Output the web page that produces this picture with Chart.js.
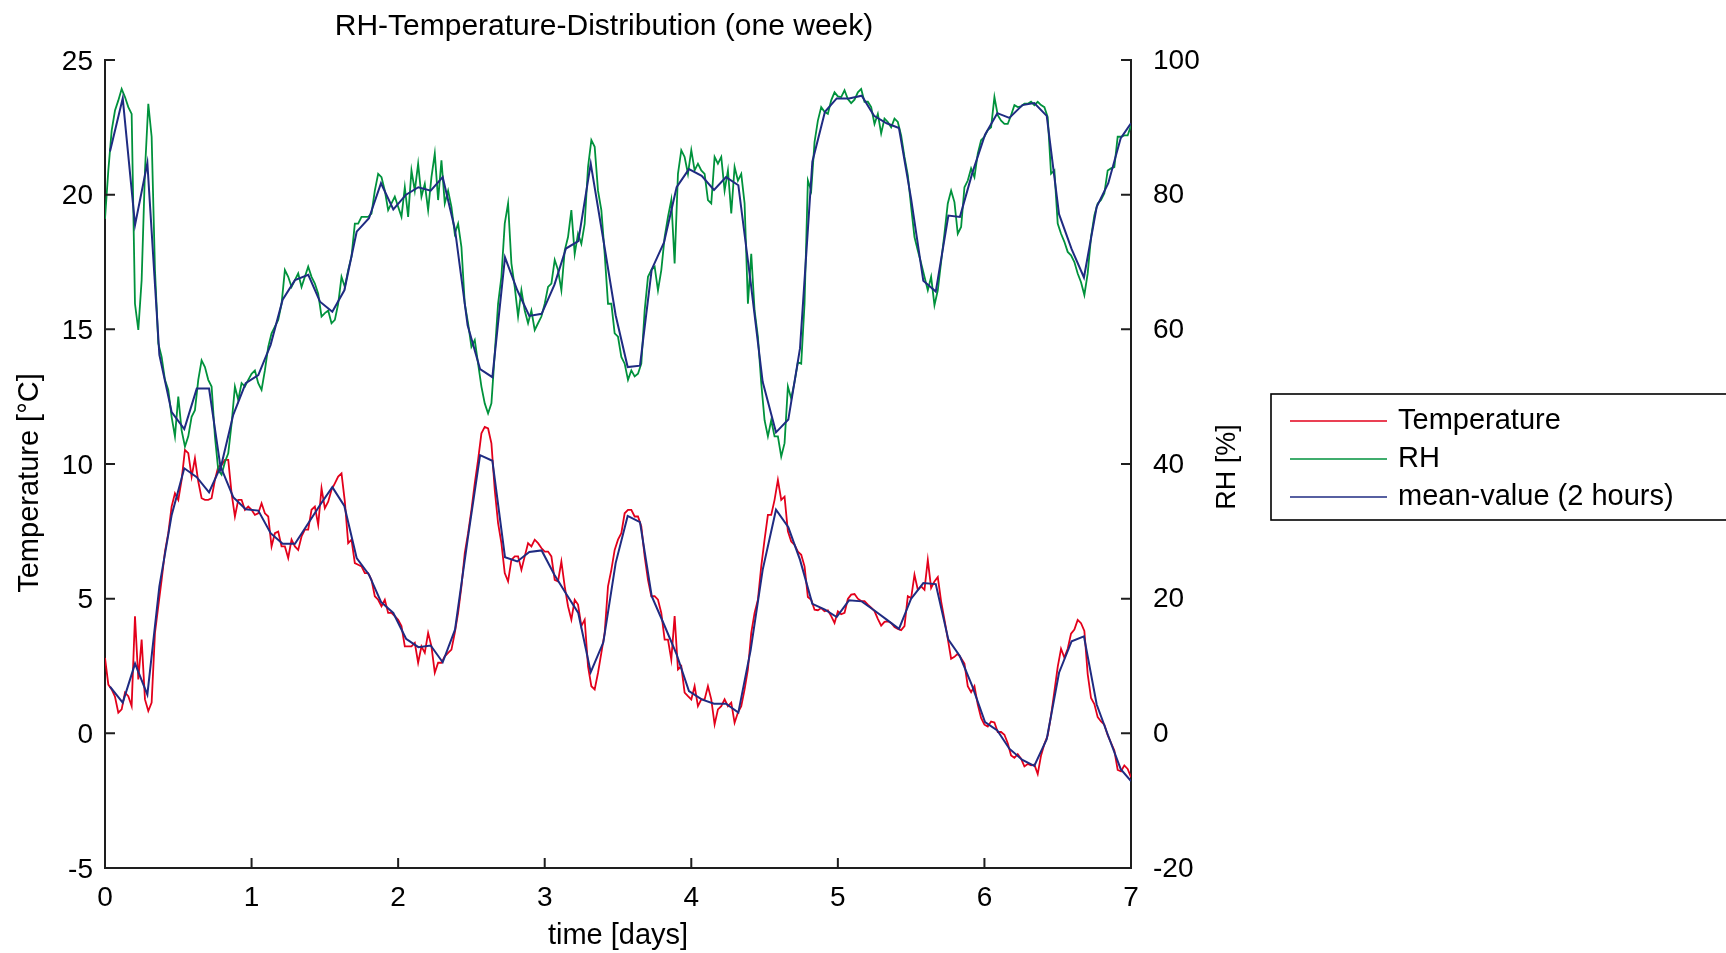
<!DOCTYPE html>
<html>
<head>
<meta charset="utf-8">
<script src="https://cdn.jsdelivr.net/npm/chart.js@4.4.1/dist/chart.umd.min.js"></script>
<style>
  html, body { margin: 0; padding: 0; background: #ffffff; overflow: hidden; }
  #wrap { position: relative; width: 1726px; height: 953px; }
</style>
</head>
<body>
<div id="wrap"><canvas id="c" width="1726" height="953"></canvas></div>
<script>
// ---------------- DATA ----------------
// raw samples: one sample every 1/44 day
const SAMPLES_PER_DAY = 44;

const temperatureRaw = [
  2.80, 1.81, 1.63, 1.36, 0.77, 0.89, 1.51, 1.38, 1.01, 4.35,
  2.00, 3.48, 1.26, 0.83, 1.14, 3.73, 4.72, 5.70, 6.75, 7.43,
  8.42, 8.91, 8.67, 9.41, 10.52, 10.40, 9.53, 10.21, 9.35, 8.73,
  8.67, 8.67, 8.73, 9.41, 9.90, 9.96, 10.15, 10.15, 8.91, 8.05,
  8.67, 8.67, 8.30, 8.42, 8.30, 8.11, 8.17, 8.54, 8.17, 8.05,
  6.94, 7.43, 7.49, 6.94, 6.94, 6.51, 7.19, 6.94, 6.81, 7.31,
  7.56, 7.56, 8.30, 8.42, 7.74, 9.10, 8.36, 8.60, 9.04, 9.28,
  9.53, 9.65, 8.60, 7.06, 7.19, 6.32, 6.26, 6.20, 5.95, 5.95,
  5.70, 5.09, 4.96, 4.72, 4.96, 4.47, 4.47, 4.35, 4.22, 3.98,
  3.23, 3.23, 3.23, 3.36, 2.62, 3.23, 2.99, 3.73, 3.23, 2.25,
  2.62, 2.62, 2.86, 2.99, 3.11, 3.73, 4.47, 5.46, 6.69, 7.43,
  8.30, 9.28, 10.15, 11.14, 11.38, 11.32, 10.77, 9.04, 7.80, 7.06,
  5.95, 5.64, 6.44, 6.57, 6.57, 6.07, 6.57, 7.06, 6.94, 7.19,
  7.06, 6.88, 6.75, 6.75, 6.57, 5.70, 5.64, 6.38, 5.46, 4.72,
  4.22, 4.96, 4.78, 3.98, 4.22, 2.49, 1.75, 1.63, 2.25, 2.99,
  3.73, 5.46, 6.07, 6.81, 7.19, 7.43, 8.17, 8.30, 8.30, 8.05,
  8.05, 7.68, 6.57, 5.70, 5.09, 5.09, 4.96, 4.47, 3.48, 3.48,
  2.74, 4.35, 2.37, 2.49, 1.51, 1.38, 1.26, 1.75, 1.01, 1.26,
  1.26, 1.75, 1.26, 0.33, 0.89, 1.01, 1.26, 1.01, 1.14, 0.39,
  0.77, 1.01, 1.63, 2.37, 3.73, 4.47, 4.96, 6.20, 7.19, 8.11,
  8.11, 8.67, 9.41, 8.67, 8.79, 7.50, 7.12, 7.00, 6.75, 6.63,
  6.20, 5.06, 4.96, 4.59, 4.57, 4.65, 4.53, 4.57, 4.35, 4.10,
  4.53, 4.42, 4.47, 4.99, 5.15, 5.17, 5.00, 4.91, 4.91, 4.78,
  4.67, 4.54, 4.25, 4.00, 4.14, 4.16, 4.10, 3.95, 3.88, 3.83,
  3.98, 5.09, 5.02, 5.89, 5.33, 5.46, 5.33, 6.44, 5.40, 5.64,
  5.80, 4.90, 4.22, 3.51, 2.77, 2.84, 2.96, 2.79, 2.59, 1.75,
  1.53, 1.75, 1.07, 0.57, 0.32, 0.25, 0.44, 0.40, 0.05, 0.05,
  -0.05, -0.37, -0.82, -0.91, -0.77, -0.94, -1.23, -1.14, -1.19, -1.16,
  -1.51, -0.82, -0.40, -0.07, 0.67, 1.56, 2.47, 3.14, 2.81, 3.14,
  3.70, 3.85, 4.21, 4.09, 3.80, 2.20, 1.31, 1.09, 0.60, 0.44,
  0.32, -0.07, -0.35, -0.64, -1.36, -1.41, -1.19, -1.32, -1.63
];

const rhRaw = [
  76.4, 83.6, 89.5, 92.5, 94.0, 95.7, 94.5, 93.0, 92.0, 63.8,
  59.9, 67.3, 83.6, 93.5, 88.6, 68.8, 57.9, 55.9, 52.5, 51.0,
  47.0, 44.1, 50.0, 45.0, 42.6, 44.1, 47.0, 48.0, 52.5, 55.4,
  54.4, 52.5, 51.5, 44.1, 39.1, 38.4, 40.3, 41.6, 46.0, 51.5,
  49.5, 52.0, 51.5, 52.5, 53.4, 53.9, 52.0, 51.0, 53.9, 57.4,
  59.4, 60.4, 61.4, 63.8, 68.8, 67.8, 66.3, 67.3, 68.3, 66.3,
  67.8, 69.3, 67.8, 66.8, 65.3, 61.9, 62.4, 62.8, 60.9, 61.4,
  63.8, 67.8, 66.3, 68.8, 70.8, 75.7, 75.7, 76.7, 76.7, 76.7,
  77.2, 80.6, 83.1, 82.6, 80.6, 77.7, 78.7, 79.7, 78.2, 76.7,
  81.1, 76.7, 83.6, 80.6, 84.6, 79.7, 81.6, 77.7, 82.6, 86.1,
  79.2, 85.1, 78.7, 80.6, 78.2, 74.2, 75.7, 72.2, 63.8, 60.9,
  57.4, 58.4, 54.9, 51.5, 49.0, 47.5, 49.0, 56.4, 63.8, 67.8,
  75.7, 78.7, 69.8, 66.3, 61.9, 65.8, 62.8, 60.9, 62.8, 59.9,
  60.9, 61.9, 63.8, 66.3, 66.8, 70.3, 68.8, 65.8, 71.7, 73.7,
  77.7, 71.2, 74.2, 72.7, 75.7, 84.1, 88.1, 87.1, 80.6, 77.7,
  71.2, 63.8, 63.8, 59.4, 58.9, 55.9, 54.9, 52.5, 53.9, 53.0,
  53.4, 54.9, 62.8, 67.8, 68.8, 69.3, 65.8, 68.8, 73.7, 76.7,
  79.2, 69.8, 83.1, 86.6, 85.6, 83.1, 86.6, 83.6, 84.6, 83.6,
  83.1, 79.2, 78.7, 85.6, 84.6, 85.6, 80.6, 83.6, 77.2, 84.1,
  82.1, 83.1, 78.7, 63.8, 71.2, 62.8, 58.9, 52.0, 46.5, 44.1,
  46.5, 44.1, 44.1, 41.1, 43.1, 51.5, 49.7, 52.2, 55.1, 54.9,
  63.8, 82.1, 80.6, 87.8, 91.0, 93.0, 92.3, 92.0, 94.0, 95.2,
  94.6, 94.5, 95.5, 94.2, 93.6, 94.1, 95.2, 95.7, 93.8, 93.8,
  93.0, 90.5, 92.0, 89.1, 91.3, 90.8, 90.0, 91.3, 90.8, 88.8,
  85.6, 82.9, 78.2, 73.7, 71.7, 69.8, 67.8, 65.8, 67.8, 63.6,
  65.8, 70.0, 74.2, 78.7, 80.6, 78.9, 74.2, 75.2, 81.1, 82.1,
  83.9, 82.6, 86.1, 88.1, 88.6, 89.6, 90.0, 94.5, 91.8, 91.0,
  90.5, 90.5, 91.8, 93.3, 93.0, 93.1, 93.5, 93.5, 93.8, 93.3,
  93.8, 93.3, 93.0, 91.5, 83.1, 83.6, 75.7, 74.2, 73.0, 71.5,
  71.0, 70.0, 68.3, 67.0, 65.1, 68.3, 73.7, 76.9, 78.7, 79.2,
  80.2, 83.6, 83.9, 84.1, 88.6, 88.6, 88.8, 88.8, 90.3
];

// 2-hour mean values (time in days)
const meanDays = [
  0.034, 0.121, 0.205, 0.289, 0.371, 0.455, 0.541, 0.626, 0.710, 0.789,
  0.875, 0.960, 1.046, 1.130, 1.212, 1.296, 1.387, 1.467, 1.551, 1.633,
  1.717, 1.801, 1.883, 1.967, 2.054, 2.138, 2.222, 2.304, 2.388, 2.474,
  2.559, 2.643, 2.729, 2.813, 2.895, 2.979, 3.066, 3.145, 3.229, 3.314,
  3.400, 3.484, 3.566, 3.650, 3.730, 3.814, 3.900, 3.984, 4.071, 4.155,
  4.237, 4.321, 4.405, 4.487, 4.578, 4.662, 4.742, 4.826, 4.912, 4.992,
  5.076, 5.163, 5.247, 5.333, 5.417, 5.499, 5.583, 5.668, 5.754, 5.833,
  5.917, 6.004, 6.088, 6.170, 6.259, 6.340, 6.425, 6.509, 6.595, 6.679,
  6.766, 6.845, 6.930, 7.000
];

const temperatureMean = [
  1.73, 1.14, 2.59, 1.44, 5.46, 8.11, 9.84, 9.51, 8.95, 9.90,
  8.77, 8.32, 8.27, 7.43, 7.04, 7.04, 7.80, 8.48, 9.14, 8.44,
  6.51, 5.89, 4.88, 4.47, 3.51, 3.20, 3.26, 2.64, 3.85, 7.19,
  10.33, 10.12, 6.54, 6.38, 6.73, 6.79, 5.89, 5.19, 4.47, 2.27,
  3.38, 6.32, 8.07, 7.84, 5.09, 4.04, 2.93, 1.57, 1.26, 1.10,
  1.10, 0.77, 3.09, 6.07, 8.30, 7.65, 6.44, 4.81, 4.59, 4.32,
  4.94, 4.90, 4.57, 4.22, 3.88, 4.99, 5.58, 5.54, 3.48, 2.86,
  1.75, 0.42, 0.11, -0.57, -0.99, -1.21, -0.22, 2.25, 3.42, 3.60,
  1.07, -0.10, -1.33, -1.77
];

const rhMean = [
  86.4, 94.3, 75.5, 84.7, 56.2, 47.7, 45.2, 51.2, 51.2, 39.4,
  47.3, 52.0, 53.2, 57.7, 64.4, 67.3, 68.1, 64.1, 62.6, 65.8,
  74.5, 76.5, 81.7, 77.8, 80.0, 81.1, 80.6, 82.6, 74.8, 60.6,
  54.1, 52.9, 70.7, 65.8, 62.0, 62.3, 66.6, 72.0, 73.1, 84.6,
  73.3, 62.1, 54.4, 54.6, 68.9, 72.9, 81.1, 83.8, 82.8, 80.7,
  82.6, 81.4, 67.0, 52.2, 44.7, 46.6, 57.2, 84.9, 92.3, 94.3,
  94.3, 94.7, 91.7, 90.6, 89.9, 79.5, 67.2, 65.6, 76.9, 76.7,
  83.2, 88.9, 92.1, 91.4, 93.3, 93.6, 91.7, 77.1, 71.9, 67.7,
  78.2, 81.7, 88.4, 90.6
];

const dayTicks = [0, 1, 2, 3, 4, 5, 6, 7];
const temperatureTicks = [-5, 0, 5, 10, 15, 20, 25];
const rhTicks = [-20, 0, 20, 40, 60, 80, 100];

const CHART_TITLE = 'RH-Temperature-Distribution (one week)';
const X_TITLE = 'time [days]';
const Y_LEFT_TITLE = 'Temperature [°C]';
const Y_RIGHT_TITLE = 'RH [%]';

// ---------------- STYLE ----------------
const FONT = '"Liberation Sans", Arial, Helvetica, sans-serif';
const RED = '#e3001b';
const GREEN = '#00923c';
const BLUE = '#1f2b82';
const AXIS = '#1e1e1e';
const TICK_LEN = 10;

Chart.defaults.font.family = FONT;
Chart.defaults.color = '#000000';

const rawPoints = vals => vals.map((v, i) => ({ x: i / SAMPLES_PER_DAY, y: v }));
const meanPoints = vals => vals.map((v, i) => ({ x: meanDays[i], y: v }));
const fixedTicks = list => scale => { scale.ticks = list.map(v => ({ value: v })); };

const decor = {
  id: 'decor',
  afterDatasetsDraw(chart) {
    const ctx = chart.ctx;
    const { left, right, top, bottom } = chart.chartArea;
    const xs = chart.scales.x, yl = chart.scales.yT, yr = chart.scales.yRH;
    ctx.save();
    ctx.strokeStyle = AXIS;
    ctx.lineWidth = 2;
    ctx.beginPath();
    xs.ticks.forEach(t => { const p = xs.getPixelForValue(t.value); ctx.moveTo(p, bottom); ctx.lineTo(p, bottom - TICK_LEN); });
    yl.ticks.forEach(t => { const p = yl.getPixelForValue(t.value); ctx.moveTo(left, p); ctx.lineTo(left + TICK_LEN, p); });
    yr.ticks.forEach(t => { const p = yr.getPixelForValue(t.value); ctx.moveTo(right, p); ctx.lineTo(right - TICK_LEN, p); });
    ctx.stroke();
    ctx.restore();
  },
  afterDraw(chart) {
    const ctx = chart.ctx;
    const { left, right, top, bottom } = chart.chartArea;
    ctx.save();
    ctx.fillStyle = '#000';
    ctx.textAlign = 'center';
    ctx.textBaseline = 'middle';
    // chart title
    ctx.font = '30px ' + FONT;
    ctx.fillText(CHART_TITLE, (left + right) / 2 - 14, 27);
    // left axis title
    ctx.font = '29px ' + FONT;
    ctx.save();
    ctx.translate(30, (top + bottom) / 2 + 19);
    ctx.rotate(-Math.PI / 2);
    ctx.fillText(Y_LEFT_TITLE, 0, 0);
    ctx.restore();
    // right axis title
    ctx.font = '27px ' + FONT;
    ctx.save();
    ctx.translate(right + 97, (top + bottom) / 2 + 3);
    ctx.rotate(-Math.PI / 2);
    ctx.fillText(Y_RIGHT_TITLE, 0, 0);
    ctx.restore();
    // legend box
    const items = chart.data.datasets.filter(d => d.inLegend !== false);
    const bx = right + 140, by = 394, bh = 126;
    ctx.lineWidth = 1.6;
    ctx.strokeStyle = '#000';
    ctx.strokeRect(bx, by, chart.width - bx + 10, bh);
    ctx.font = '29px ' + FONT;
    ctx.textAlign = 'left';
    items.forEach((d, i) => {
      const y = by + 27 + i * 38;
      ctx.strokeStyle = d.borderColor;
      ctx.lineWidth = 1.6;
      ctx.beginPath();
      ctx.moveTo(bx + 19, y);
      ctx.lineTo(bx + 116, y);
      ctx.stroke();
      ctx.fillText(d.label, bx + 127, y);
    });
    ctx.restore();
  }
};

new Chart(document.getElementById('c').getContext('2d'), {
  type: 'line',
  data: {
    datasets: [
      { label: 'Temperature', data: rawPoints(temperatureRaw), yAxisID: 'yT', borderColor: RED, borderWidth: 1.8, order: 2 },
      { label: 'RH', data: rawPoints(rhRaw), yAxisID: 'yRH', borderColor: GREEN, borderWidth: 1.8, order: 1 },
      { label: 'mean-value (2 hours)', data: meanPoints(temperatureMean), yAxisID: 'yT', borderColor: BLUE, borderWidth: 2, order: 0 },
      { label: 'mean-value (2 hours)', data: meanPoints(rhMean), yAxisID: 'yRH', borderColor: BLUE, borderWidth: 2, order: 0, inLegend: false }
    ]
  },
  options: {
    responsive: false,
    animation: false,
    devicePixelRatio: 1,
    elements: { point: { radius: 0, hoverRadius: 0 }, line: { tension: 0, fill: false } },
    layout: { padding: { top: 60, left: 0, right: 515, bottom: 0 } },
    plugins: { legend: { display: false }, title: { display: false }, tooltip: { enabled: false } },
    events: [],
    scales: {
      x: {
        type: 'linear', position: 'bottom', min: 0, max: 7,
        afterBuildTicks: fixedTicks(dayTicks),
        afterFit: s => { s.height = 85; },
        grid: { display: false, drawTicks: false },
        border: { display: true, color: AXIS, width: 2 },
        ticks: { padding: 13, color: '#000', font: { size: 28 }, maxRotation: 0, autoSkip: false },
        title: { display: true, text: X_TITLE, color: '#000', font: { size: 29 }, padding: { top: 0, bottom: 0 } }
      },
      yT: {
        type: 'linear', position: 'left', min: -5, max: 25,
        afterBuildTicks: fixedTicks(temperatureTicks),
        afterFit: s => { s.width = 105; },
        grid: { display: false, drawTicks: false },
        border: { display: true, color: AXIS, width: 2 },
        ticks: { padding: 12, labelOffset: 2, color: '#000', font: { size: 28 }, autoSkip: false }
      },
      yRH: {
        type: 'linear', position: 'right', min: -20, max: 100,
        afterBuildTicks: fixedTicks(rhTicks),
        afterFit: s => { s.width = 80; },
        grid: { display: false, drawTicks: false },
        border: { display: true, color: AXIS, width: 2 },
        ticks: { padding: 22, labelOffset: 1, color: '#000', font: { size: 28 }, autoSkip: false }
      }
    }
  },
  plugins: [decor]
});
</script>
</body>
</html>
